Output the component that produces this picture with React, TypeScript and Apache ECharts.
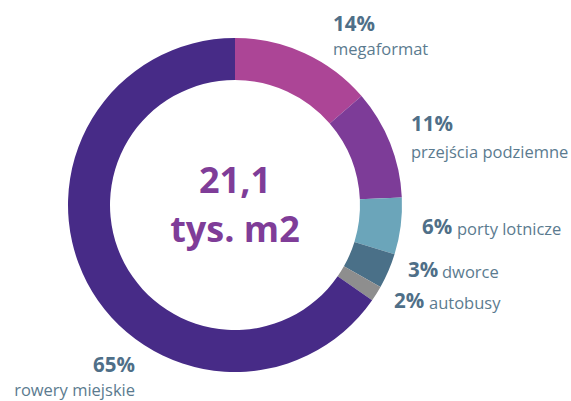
import React, { useEffect, useRef } from "react";
import * as echarts from "echarts";

const categories = ["megaformat", "przejścia podziemne", "porty lotnicze", "dworce", "autobusy", "rowery miejskie"];
const values = [13.7, 10.6, 5.5, 3.4, 1.5, 65.4];
const percentLabels = ["14%", "11%", "6%", "3%", "2%", "65%"];
const centerLines = ["21,1", "tys. m2"];

const colors = ["#AC4596", "#7D3C98", "#6BA5BA", "#4A7088", "#8E8E8E", "#472B87"];

// label layout: [pctX, pctY, nameX, nameY, align]
const labelPos: [number, number, number, number, string][] = [
  [333, 23, 333, 48, "left"],
  [411, 123, 411, 151, "left"],
  [422, 226, 457, 228, "left"],
  [408, 269, 442, 271, "left"],
  [394, 300, 429, 302, "left"],
  [135, 364, 135, 389, "right"],
];

export default function App() {
  const ref = useRef<HTMLDivElement>(null);
  useEffect(() => {
    if (!ref.current) return;
    const chart = echarts.init(ref.current, null, { renderer: "svg" });
    const font = "'Open Sans', sans-serif";
    const graphics: any[] = [];
    categories.forEach((name, i) => {
      const p = labelPos[i];
      graphics.push({
        type: "text",
        x: p[0],
        y: p[1],
        silent: true,
        style: {
          text: percentLabels[i],
          fontFamily: font,
          fontWeight: "bold",
          fontSize: 20.5,
          fill: "#4F6F88",
          align: p[4],
          verticalAlign: "middle",
        },
      });
      graphics.push({
        type: "text",
        x: p[2],
        y: p[3],
        silent: true,
        style: {
          text: name,
          fontFamily: font,
          fontSize: 16.5,
          fill: "#5B7B8F",
          align: p[4],
          verticalAlign: "middle",
        },
      });
    });
    graphics.push({
      type: "text",
      x: 235,
      y: 204,
      silent: true,
      style: {
        text: centerLines.join("\n"),
        fontFamily: font,
        fontWeight: "bold",
        fontSize: 36,
        lineHeight: 49,
        fill: "#7F3D98",
        align: "center",
        verticalAlign: "middle",
      },
    });
    chart.setOption({
      animation: false,
      backgroundColor: "#ffffff",
      graphic: graphics,
      series: [
        {
          type: "pie",
          center: [235, 205],
          radius: [125, 167],
          startAngle: 90,
          clockwise: true,
          silent: true,
          label: { show: false },
          labelLine: { show: false },
          itemStyle: { borderWidth: 0 },
          data: categories.map((name, i) => ({
            name,
            value: values[i],
            itemStyle: { color: colors[i] },
          })),
        },
      ],
    });
    return () => chart.dispose();
  }, []);
  return (
    <div
      ref={ref}
      style={{ position: "fixed", left: 0, top: 0, width: 571, height: 401 }}
    />
  );
}
